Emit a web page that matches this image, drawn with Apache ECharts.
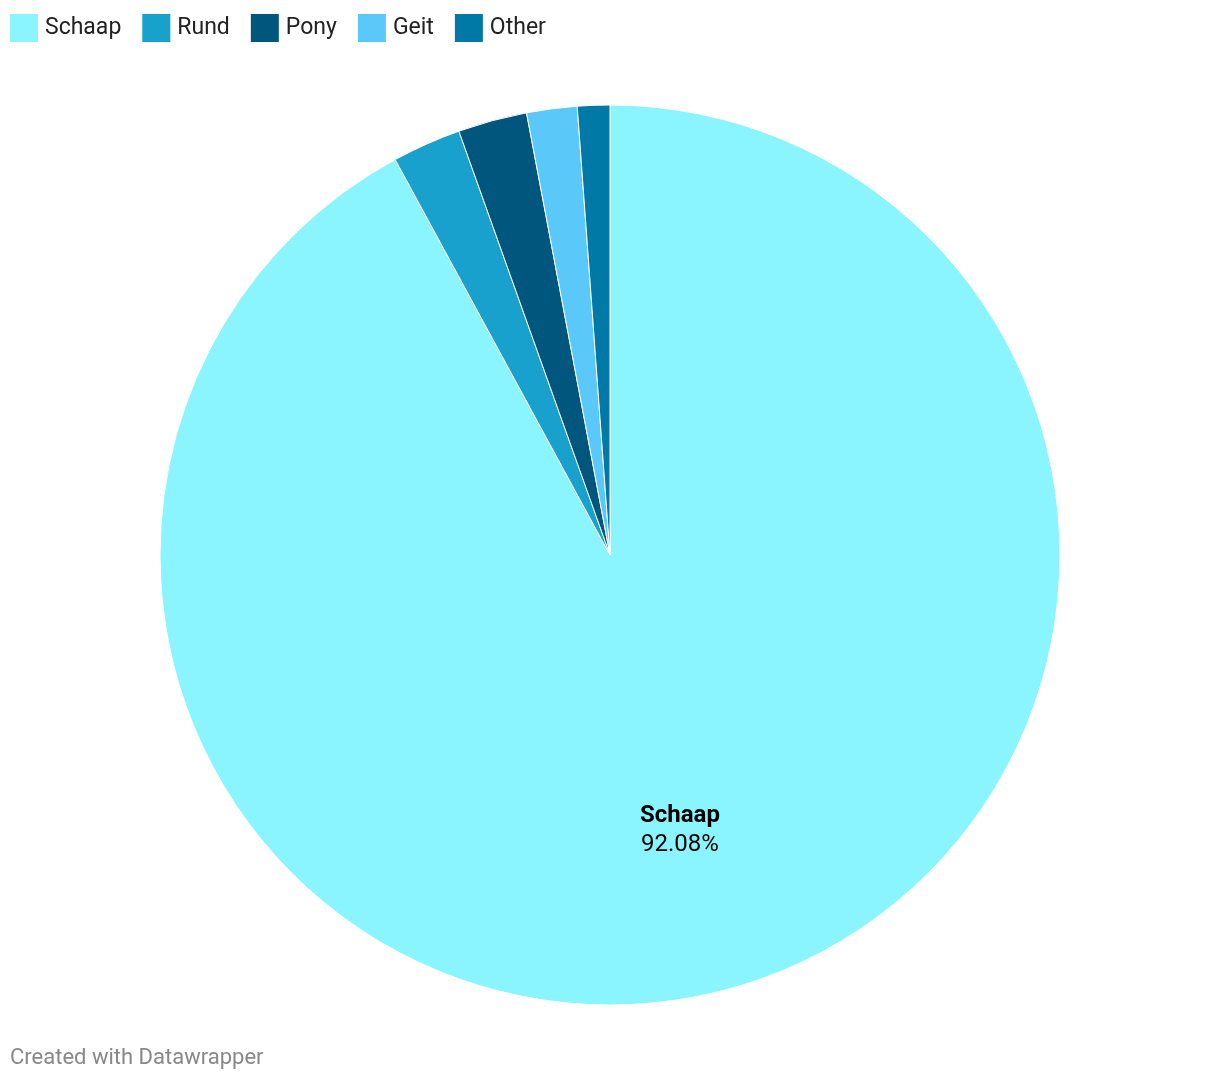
<!DOCTYPE html>
<html>
<head>
<meta charset="utf-8">
<script src="https://cdn.jsdelivr.net/npm/echarts@6/dist/echarts.min.js"></script>
<style>
html,body{margin:0;padding:0;background:#fff;}
#chart{width:1220px;height:1082px;}
</style>
</head>
<body>
<div id="chart"></div>
<script>
const categories = ['Schaap', 'Rund', 'Pony', 'Geit', 'Other'];
const values = [92.08, 2.47, 2.48, 1.81, 1.16];
const colors = ['#8af5fe', '#18a1cd', '#00567c', '#5ac8f8', '#0079a6'];
const labelled = ['Schaap'];

const chart = echarts.init(document.getElementById('chart'));
const data = categories.map((c, i) => ({ name: c, value: values[i], itemStyle: { color: colors[i] } }));
const labelData = categories.map((c, i) => ({
  name: c, value: values[i],
  label: { show: labelled.includes(c) }
}));

chart.setOption({
  animation: false,
  legend: {
    left: 5, top: 9,
    icon: 'rect',
    itemWidth: 28, itemHeight: 28, itemGap: 21,
    itemStyle: { borderWidth: 0 },
    textStyle: { fontFamily: 'Roboto', fontSize: 23, color: '#222', padding: [0, 0, 0, 2] },
    data: categories
  },
  graphic: [{
    type: 'text', left: 10, top: 1047,
    style: { text: 'Created with Datawrapper', fontFamily: 'Roboto', fontSize: 22, fill: '#888' }
  }],
  series: [{
    type: 'pie',
    center: [610, 555],
    radius: [0, 450],
    startAngle: 90,
    clockwise: true,
    silent: true,
    label: { show: false },
    labelLine: { show: false },
    itemStyle: { borderColor: '#fff', borderWidth: 1 },
    data: data
  }, {
    type: 'pie',
    center: [610, 555],
    radius: [112, 450],
    startAngle: 90,
    clockwise: true,
    silent: true,
    legendHoverLink: false,
    itemStyle: { color: 'rgba(0,0,0,0)' },
    labelLine: { show: false },
    label: {
      position: 'inside',
      fontFamily: 'Roboto',
      fontSize: 24,
      color: '#000',
      lineHeight: 29,
      formatter: p => '{b|' + p.name + '}\n' + p.value.toFixed(2) + '%',
      rich: { b: { fontWeight: 'bold', fontSize: 24, fontFamily: 'Roboto', color: '#000', lineHeight: 29 } }
    },
    data: labelData
  }]
});
</script>
</body>
</html>
